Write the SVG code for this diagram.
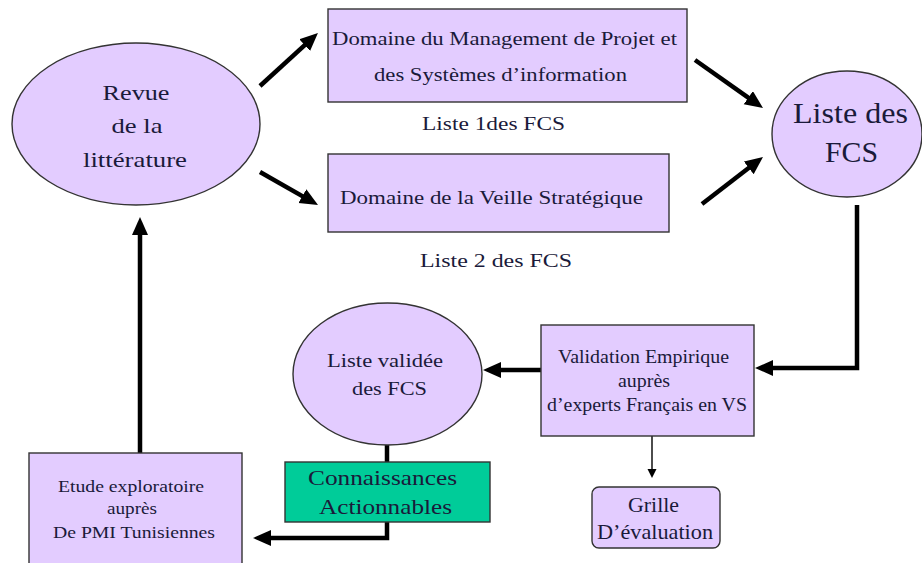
<svg xmlns="http://www.w3.org/2000/svg" width="922" height="563" viewBox="0 0 922 563" font-family="Liberation Serif, Times New Roman, Times, serif">
<style>
  .n { fill: #E3CCFF; stroke: #333; stroke-width: 1.4; }
  .g { fill: #00CC99; stroke: #333; stroke-width: 1.4; }
  text { fill: #1a1a3a; text-anchor: middle; }
  .c { fill: none; stroke: #000; stroke-width: 4.5; }
  .ct { fill: none; stroke: #000; stroke-width: 1.4; }
</style>
<defs>
  <marker id="ah" markerUnits="userSpaceOnUse" markerWidth="20" markerHeight="18" refX="6" refY="8" orient="auto">
    <path d="M0,0 L18,8 L0,16 z" fill="#000"/>
  </marker>
  <marker id="ahs" markerUnits="userSpaceOnUse" markerWidth="10" markerHeight="10" refX="2" refY="4.5" orient="auto">
    <path d="M0,0 L9,4.5 L0,9 z" fill="#000"/>
  </marker>
</defs>
<rect width="922" height="563" fill="#fff"/>

<g id="connectors">
  <line class="c" x1="260" y1="86" x2="309.1" y2="41.1" marker-end="url(#ah)"/>
  <line class="c" x1="260" y1="172" x2="307.6" y2="199.1" marker-end="url(#ah)"/>
  <line class="c" x1="695" y1="60" x2="753.2" y2="101.1" marker-end="url(#ah)"/>
  <line class="c" x1="702" y1="204" x2="753.5" y2="164.3" marker-end="url(#ah)"/>
  <path class="c" d="M857,205 V368 H767" marker-end="url(#ah)"/>
  <line class="c" x1="541" y1="370" x2="495" y2="370" marker-end="url(#ah)"/>
  <line class="ct" x1="652" y1="436" x2="652" y2="471" marker-end="url(#ahs)"/>
  <line class="c" x1="387" y1="445" x2="387" y2="462"/>
  <path class="c" d="M387,522 V538 H265" marker-end="url(#ah)"/>
  <line class="c" x1="140" y1="453" x2="140" y2="229" marker-end="url(#ah)"/>
</g>

<g id="revue">
  <ellipse class="n" cx="136" cy="124" rx="124" ry="81"/>
  <text x="136" y="100" font-size="21" textLength="67" lengthAdjust="spacingAndGlyphs">Revue</text>
  <text x="137" y="133" font-size="21" textLength="51" lengthAdjust="spacingAndGlyphs">de la</text>
  <text x="135" y="167" font-size="21" textLength="104" lengthAdjust="spacingAndGlyphs">littérature</text>
</g>

<g id="domaine-mp">
  <rect class="n" x="328" y="9" width="359" height="93"/>
  <text x="504.5" y="45" font-size="19" textLength="345" lengthAdjust="spacingAndGlyphs">Domaine du Management de Projet et</text>
  <text x="500.5" y="81" font-size="19" textLength="253" lengthAdjust="spacingAndGlyphs">des Systèmes d’information</text>
</g>
<g id="liste1">
  <text x="493.5" y="130" font-size="19" textLength="143" lengthAdjust="spacingAndGlyphs">Liste 1des FCS</text>
</g>

<g id="domaine-vs">
  <rect class="n" x="328" y="154" width="341" height="78"/>
  <text x="491.5" y="204" font-size="19" textLength="303" lengthAdjust="spacingAndGlyphs">Domaine de la Veille Stratégique</text>
</g>
<g id="liste2">
  <text x="496" y="267" font-size="19" textLength="152" lengthAdjust="spacingAndGlyphs">Liste 2 des FCS</text>
</g>

<g id="liste-fcs">
  <ellipse class="n" cx="847" cy="134" rx="75" ry="63"/>
  <text x="850.5" y="123" font-size="29" textLength="115" lengthAdjust="spacingAndGlyphs">Liste des</text>
  <text x="851.5" y="162" font-size="29" textLength="53" lengthAdjust="spacingAndGlyphs">FCS</text>
</g>

<g id="validation">
  <rect class="n" x="541" y="325" width="213" height="111"/>
  <text x="643.5" y="363" font-size="18" textLength="171" lengthAdjust="spacingAndGlyphs">Validation Empirique</text>
  <text x="644" y="387" font-size="18" textLength="52" lengthAdjust="spacingAndGlyphs">auprès</text>
  <text x="647" y="411" font-size="18" textLength="200" lengthAdjust="spacingAndGlyphs">d’experts Français en VS</text>
</g>

<g id="grille">
  <rect class="n" x="592" y="487" width="128" height="61" rx="7"/>
  <text x="653.5" y="512" font-size="21" textLength="51" lengthAdjust="spacingAndGlyphs">Grille</text>
  <text x="655" y="539" font-size="21" textLength="116" lengthAdjust="spacingAndGlyphs">D’évaluation</text>
</g>

<g id="liste-validee">
  <ellipse class="n" cx="387.5" cy="374" rx="94.5" ry="71"/>
  <text x="385" y="367" font-size="18" textLength="116" lengthAdjust="spacingAndGlyphs">Liste validée</text>
  <text x="389.5" y="395" font-size="18" textLength="75" lengthAdjust="spacingAndGlyphs">des FCS</text>
</g>

<g id="connaissances">
  <rect class="g" x="285" y="462" width="205" height="60"/>
  <text x="382.5" y="485" font-size="21" textLength="149" lengthAdjust="spacingAndGlyphs">Connaissances</text>
  <text x="385.5" y="514" font-size="21" textLength="133" lengthAdjust="spacingAndGlyphs">Actionnables</text>
</g>

<g id="etude">
  <rect class="n" x="29" y="453" width="213" height="120"/>
  <text x="131" y="492" font-size="17" textLength="146" lengthAdjust="spacingAndGlyphs">Etude exploratoire</text>
  <text x="132" y="514" font-size="17" textLength="50" lengthAdjust="spacingAndGlyphs">auprès</text>
  <text x="134" y="538" font-size="17" textLength="162" lengthAdjust="spacingAndGlyphs">De PMI Tunisiennes</text>
</g>
</svg>
